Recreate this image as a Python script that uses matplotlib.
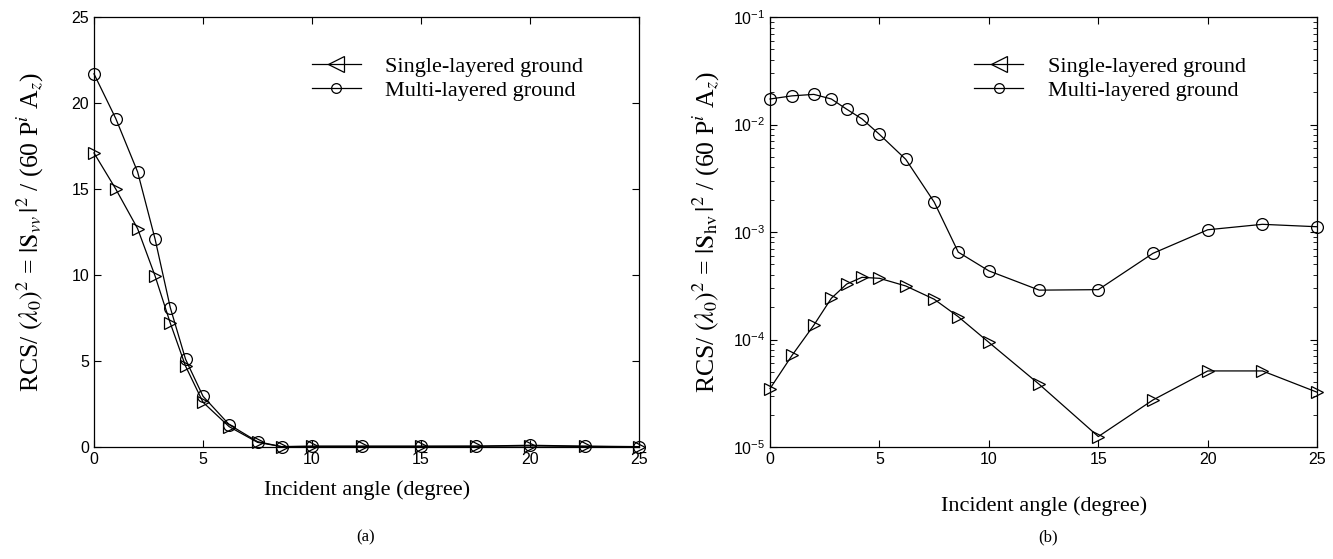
import matplotlib
matplotlib.use('Agg')
import matplotlib.pyplot as plt
from matplotlib.lines import Line2D
from matplotlib.ticker import LogLocator, NullFormatter

plt.rcParams['font.family'] = ['Liberation Sans', 'DejaVu Sans']
plt.rcParams['mathtext.fontset'] = 'stix'

# incident angle (degree)
angle = [0, 1, 2, 2.8, 3.5, 4.2, 5, 6.2, 7.5, 8.6, 10, 12.3, 15, 17.5, 20, 22.5, 25]

# (a) co-polarised RCS, linear scale
vv_single = [17.1, 15.0, 12.7, 9.95, 7.2, 4.7, 2.6, 1.18, 0.27, 0.02,
             0.03, 0.03, 0.03, 0.04, 0.06, 0.03, 0.01]
vv_multi = [21.7, 19.1, 16.0, 12.1, 8.1, 5.1, 2.95, 1.3, 0.31, 0.02,
            0.05, 0.05, 0.05, 0.05, 0.1, 0.05, 0.02]

# (b) cross-polarised RCS, log scale
hv_single = [3.5e-5, 7.1e-5, 1.36e-4, 2.42e-4, 3.28e-4, 3.79e-4, 3.71e-4, 3.15e-4,
             2.37e-4, 1.63e-4, 9.4e-5, 3.83e-5, 1.25e-5, 2.74e-5, 5.1e-5, 5.1e-5, 3.23e-5]
hv_multi = [0.0173, 0.0185, 0.0191, 0.0173, 0.0139, 0.0113, 0.0081, 0.00475,
            0.0019, 0.00065, 0.000435, 0.000288, 0.000291, 0.000634, 0.00105, 0.00118, 0.00112]

legend_names = ['Single-layered ground', 'Multi-layered ground']

fig = plt.figure(figsize=(13.33, 5.59), dpi=100)
ax1 = fig.add_axes([0.0705, 0.2004, 0.409, 0.769])
ax2 = fig.add_axes([0.5777, 0.2004, 0.4104, 0.769])

serif = 'Liberation Serif'
mk = dict(color='black', lw=0.9, markerfacecolor='none', markeredgecolor='black',
          markeredgewidth=0.9)

ax1.plot(angle, vv_single, marker='>', markersize=8, clip_on=False, **mk)
ax1.plot(angle, vv_multi, marker='o', markersize=8.5, clip_on=False, **mk)
ax1.set_xlim(0, 25)
ax1.set_ylim(0, 25)
ax1.set_xticks([0, 5, 10, 15, 20, 25])
ax1.set_yticks([0, 5, 10, 15, 20, 25])
ax1.set_ylabel(r'RCS/ $(\lambda_0)^2$ = $|\mathrm{S}_{vv}\,|^2$ / (60 P$^i$ A$_z$)',
               fontsize=18.5, family=serif, labelpad=18)

ax2.semilogy(angle, hv_single, marker='>', markersize=8, clip_on=False, **mk)
ax2.semilogy(angle, hv_multi, marker='o', markersize=8.5, clip_on=False, **mk)
ax2.set_xlim(0, 25)
ax2.set_ylim(1e-5, 1e-1)
ax2.set_xticks([0, 5, 10, 15, 20, 25])
ax2.yaxis.set_major_locator(LogLocator(base=10, numticks=10))
ax2.yaxis.set_minor_locator(LogLocator(base=10, subs=range(2, 10), numticks=20))
ax2.yaxis.set_minor_formatter(NullFormatter())
ax2.set_ylabel(r'RCS/ $(\lambda_0)^2$ = $|\mathrm{S}_{\mathrm{hv}}\,|^2$ / (60 P$^i$ A$_z$)',
               fontsize=18.5, family=serif, labelpad=8)

for ax in (ax1, ax2):
    ax.tick_params(which='both', direction='in', top=True, right=True, labelsize=11.5)
    ax.tick_params(which='major', length=5, width=0.8)
    ax.tick_params(which='minor', length=3, width=0.6)
    for s in ax.spines.values():
        s.set_linewidth(0.9)
    ax.set_xlabel('Incident angle (degree)', fontsize=16, family=serif)
    handles = [Line2D([], [], marker='<', markersize=11, **mk),
               Line2D([], [], marker='o', markersize=7, **mk)]
    ax.legend(handles, legend_names, loc='upper left', frameon=False,
              prop={'family': serif, 'size': 16}, handlelength=2.2,
              handletextpad=1.1, labelspacing=0.15)

ax1.xaxis.labelpad = 10
ax2.xaxis.labelpad = 21
ax1.get_legend().set_bbox_to_anchor((0.363, 0.955))
ax2.get_legend().set_bbox_to_anchor((0.337, 0.955))

fig.text(0.274, 0.038, '(a)', ha='center', va='center', fontsize=12, family=serif)
fig.text(0.786, 0.038, '(b)', ha='center', va='center', fontsize=12, family=serif)

fig.savefig('out.png', dpi=100)
